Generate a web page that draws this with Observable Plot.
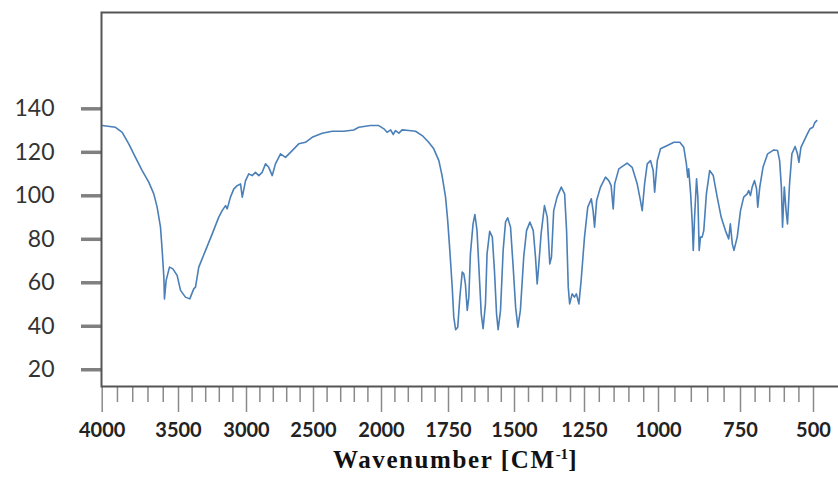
<!DOCTYPE html>
<html>
<head>
<meta charset="utf-8">
<script src="https://cdn.jsdelivr.net/npm/d3@7"></script>
<script src="https://cdn.jsdelivr.net/npm/@observablehq/plot@0.6"></script>
<style>
  html, body { margin: 0; padding: 0; background: #fff; }
  #xlabel { margin-left: 333px; font: bold 25px "Liberation Serif", "Times New Roman", serif; letter-spacing: 1.6px; line-height: 23px; color: #111; white-space: nowrap; }
  #xlabel sup { font-size: 0.6em; line-height: 0; vertical-align: 0.6em; letter-spacing: 0; }
</style>
</head>
<body>
<div id="chart"></div>
<div id="xlabel">Wavenumber [CM<sup>-1</sup>]</div>
<script>
// Wavenumber (cm^-1) and transmittance
const wavenumber = [
  4000, 3913, 3869, 3826, 3782, 3738, 3695, 3662, 3640, 3618, 3607, 3596, 3592, 3581, 3559, 3537, 3509, 3485, 3449, 3417,
  3388, 3375, 3351, 3301, 3252, 3204, 3179, 3154, 3142, 3118, 3093, 3068, 3044, 3031, 3007, 2983, 2958, 2933, 2908, 2883,
  2858, 2834, 2808, 2784, 2746, 2709, 2659, 2610, 2560, 2510, 2436, 2362, 2277, 2204, 2167, 2130, 2081, 2020, 1991, 1979,
  1966, 1956, 1948, 1935, 1923, 1898, 1873, 1848, 1824, 1805, 1786, 1774, 1761, 1753, 1745, 1736, 1730, 1723, 1715, 1707,
  1698, 1692, 1686, 1679, 1673, 1667, 1657, 1650, 1642, 1633, 1626, 1619, 1610, 1604, 1594, 1584, 1576, 1568, 1562, 1553,
  1543, 1534, 1526, 1515, 1505, 1496, 1488, 1479, 1467, 1457, 1445, 1433, 1425, 1419, 1413, 1405, 1393, 1383, 1374, 1368,
  1360, 1348, 1333, 1321, 1314, 1308, 1303, 1294, 1286, 1279, 1270, 1262, 1250, 1239, 1227, 1221, 1216, 1209, 1196, 1179,
  1168, 1160, 1153, 1148, 1134, 1106, 1089, 1072, 1061, 1055, 1047, 1038, 1027, 1018, 1013, 1004, 994, 973, 953, 935,
  923, 915, 911, 908, 902, 897, 894, 890, 884, 880, 876, 872, 867, 862, 854, 844, 833, 821, 809, 796,
  786, 781, 775, 770, 760, 750, 739, 727, 722, 716, 710, 702, 695, 691, 684, 673, 657, 636, 623, 616,
  610, 606, 600, 594, 589, 582, 574, 563, 555, 550, 543, 532, 521, 512, 502, 495, 489
];
const transmittance = [
  132.3, 131.5, 129.2, 123.9, 117.7, 111.6, 106.3, 100.9, 94.8, 85.6, 74.9, 62.6, 52.6, 61.1, 67.2, 66.4, 63.4, 56.5, 53.4, 52.6,
  57.2, 58, 67.2, 74.9, 82.5, 90.2, 93.2, 95.5, 94, 99.4, 103.2, 104.7, 105.5, 99.4, 107, 110.1, 109.3, 110.8, 109.3, 110.8,
  114.7, 113.1, 109.3, 114.7, 119.3, 117.7, 120.8, 123.9, 124.6, 126.9, 128.8, 129.7, 129.7, 130.3, 131.5, 131.9, 132.3, 132.3, 130.8, 129.2,
  130.3, 128.2, 130, 128.8, 130.3, 130, 129.7, 127.7, 124.6, 121.6, 116.2, 109.3, 99.4, 88.6, 74.9, 58.1, 44.2, 38.4, 39.6, 53.4,
  64.9, 64.1, 59.5, 47.3, 53.4, 73.3, 87.1, 91.4, 84, 62.6, 45.7, 38.9, 50.3, 73.3, 83.7, 81, 65.7, 45.7, 38.4, 47.3,
  74.9, 87.9, 89.9, 85.6, 67.2, 48.8, 39.6, 47.3, 72, 84, 87.9, 84, 71.8, 59.5, 68.7, 82.5, 95.5, 90.2, 68.7, 71.8,
  93.2, 99.4, 104, 100.9, 84, 58, 50.3, 54.9, 53.4, 54.9, 50.3, 61.1, 81, 94.8, 98.6, 93.2, 85.6, 97.8, 104, 108.6,
  107, 104.7, 94, 105.5, 112.4, 115, 113.1, 105.5, 97.8, 93.2, 105.5, 114.7, 116.2, 111.6, 101.7, 116.2, 121.6, 123.1, 124.6, 124.6,
  122.3, 114.7, 108.6, 112.4, 100.9, 87.1, 74.9, 90.2, 107.8, 99.4, 74.9, 81, 81, 84, 100.9, 111.6, 109.3, 99.4, 90.2, 84,
  80.2, 87.1, 77.9, 74.9, 81, 93.2, 99.4, 100.9, 102.4, 100.1, 104, 107, 103.2, 94.8, 104, 113.1, 119.3, 121.1, 120.8, 116.2,
  104, 85.6, 104, 93.2, 87.1, 105.5, 119.3, 122.7, 119.3, 115.4, 122.3, 125.4, 128.5, 130.8, 131.5, 133.8, 134.6
];

// Axis ticks
const xMajorTicks = [4000, 3500, 3000, 2500, 2000, 1750, 1500, 1250, 1000, 750, 500];
const xMinorTicks = [3900, 3800, 3700, 3600, 3400, 3300, 3200, 3100, 2900, 2800, 2700, 2600, 2400, 2300, 2200, 2100,
  1950, 1900, 1850, 1800, 1700, 1650, 1600, 1550, 1450, 1400, 1350, 1300, 1200, 1150, 1100, 1050,
  950, 900, 850, 800, 700, 650, 600, 550];
const yTicks = [20, 40, 60, 80, 100, 120, 140];
const yDomain = [12.3, 184.3];

// Positions of the labelled wavenumbers along the (non-uniform) axis, in px
const xKnotRange = [101.7, 178, 246, 313, 381, 448, 514, 584, 658, 740, 813];
const xPiecewise = d3.scaleLinear().domain(xMajorTicks).range(xKnotRange);

const data = wavenumber.map((w, i) => ({w, t: transmittance[i]}));

const chart = Plot.plot({
  width: 838,
  height: 448,
  marginLeft: 101,
  marginRight: -6,
  marginTop: 12,
  marginBottom: 62,
  style: {background: "#fff", overflow: "hidden"},
  x: {type: "linear", transform: w => xPiecewise(w), domain: [0, 838], range: [0, 838]},
  y: {domain: yDomain},
  marks: [
    Plot.line(data, {x: "w", y: "t", stroke: "#4a7fb8", strokeWidth: 1.6}),
    Plot.axisX(xMinorTicks, {tickSize: 16, stroke: "#8a8a8a", strokeWidth: 1.5, tickFormat: () => "", label: null}),
    Plot.axisX(xMajorTicks, {tickSize: 26, tickPadding: 10, stroke: "#8a8a8a", strokeWidth: 1.5, fill: "#222",
      fontSize: 20, fontWeight: "bold", fontFamily: "Lato", tickFormat: d => String(d), label: null}),
    Plot.axisY(yTicks, {tickSize: 20, tickPadding: 27, stroke: "#808080", strokeWidth: 3.5, fill: "#333",
      fontSize: 23, fontFamily: "Lato", label: null}),
    Plot.frame({stroke: "#555", strokeWidth: 2})
  ]
});
document.getElementById("chart").appendChild(chart);
</script>
</body>
</html>
